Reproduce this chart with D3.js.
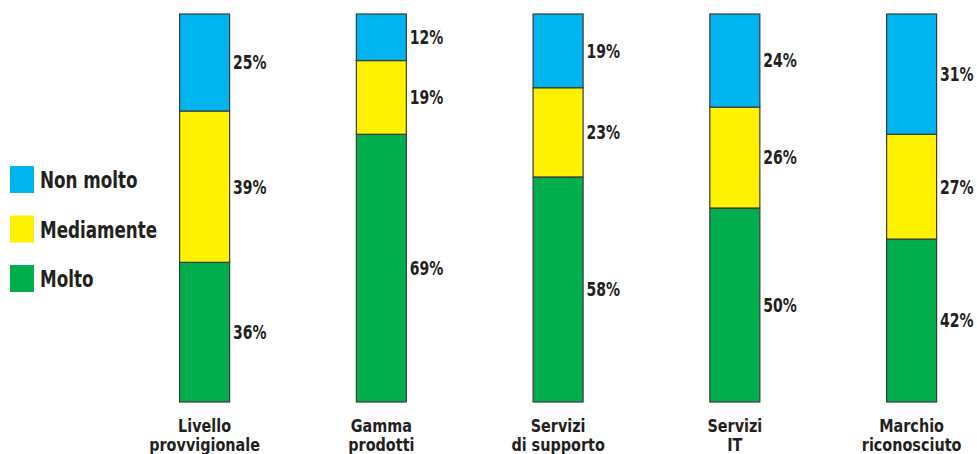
<!DOCTYPE html>
<html>
<head>
<meta charset="utf-8">
<script src="https://cdn.jsdelivr.net/npm/d3@7"></script>
<style>
  html, body { margin: 0; padding: 0; background: #fff; }
  svg { display: block; }
  text { font-family: "Liberation Sans Narrow", "DejaVu Sans Condensed", "Arial Narrow", sans-serif; font-weight: bold; fill: #231f20; }
</style>
</head>
<body>
<svg id="chart" width="977" height="454"></svg>
<script>
// Survey categories (two-line labels) and the share of answers per level
const categories = ["Livello provvigionale", "Gamma prodotti", "Servizi di supporto", "Servizi IT", "Marchio riconosciuto"];
const categoryLines = [["Livello", "provvigionale"], ["Gamma", "prodotti"], ["Servizi", "di supporto"], ["Servizi", "IT"], ["Marchio", "riconosciuto"]];
const molto = [36, 69, 58, 50, 42];
const mediamente = [39, 19, 23, 26, 27];
const nonMolto = [25, 12, 19, 24, 31];

const seriesNames = ["Molto", "Mediamente", "Non molto"];
const seriesValues = [molto, mediamente, nonMolto];
const seriesColors = ["#00ae4d", "#fff200", "#00b5ef"];
const legendOrder = ["Non molto", "Mediamente", "Molto"];

const svg = d3.select("#chart");
const barWidth = 50;

const x = d3.scalePoint().domain(categories).range([204.6, 911.6]);
const y = d3.scaleLinear().domain([0, 100]).range([402, 14]);
const color = d3.scaleOrdinal().domain(seriesNames).range(seriesColors);

// Condensed bold look: squeeze glyphs horizontally around the anchor point
const squeeze = (px, py, s) => `translate(${px},${py}) scale(${s},1)`;

// Build rows for the stack layout
const rows = categories.map((c, i) => {
  const r = { category: c };
  seriesNames.forEach((s, k) => { r[s] = seriesValues[k][i]; });
  return r;
});
const stacked = d3.stack().keys(seriesNames)(rows);

const layers = svg.append("g").selectAll("g")
  .data(stacked).join("g")
  .attr("fill", d => color(d.key));

layers.selectAll("rect")
  .data(d => d)
  .join("rect")
  .attr("x", d => x(d.data.category) - barWidth / 2)
  .attr("y", d => y(d[1]))
  .attr("width", barWidth)
  .attr("height", d => y(d[0]) - y(d[1]))
  .attr("stroke", "#3a3a3a")
  .attr("stroke-width", 1.2);

// Percentage labels beside each segment
layers.selectAll("text")
  .data(d => d.map(v => ({ v, key: d.key })))
  .join("text")
  .attr("transform", d => squeeze(x(d.v.data.category) + barWidth / 2 + 3.5, (y(d.v[0]) + y(d.v[1])) / 2, 0.82))
  .attr("dy", "0.36em")
  .attr("font-size", 19)
  .text(d => d.v.data[d.key] + "%");

// Category labels under the bars
const catG = svg.append("g");
categories.forEach((c, i) => {
  const t = catG.append("text")
    .attr("text-anchor", "middle")
    .attr("font-size", 18)
    .attr("transform", squeeze(x(c), 432, 0.89));
  categoryLines[i].forEach((line, j) => {
    t.append("tspan").attr("x", 0).attr("dy", j === 0 ? 0 : 19).text(line);
  });
});

// Legend
const legend = svg.append("g").attr("transform", "translate(10,166)");
const item = legend.selectAll("g").data(legendOrder).join("g")
  .attr("transform", (d, i) => `translate(0,${i * 49.5})`);
item.append("rect")
  .attr("width", 24).attr("height", 27)
  .attr("fill", d => color(d));
item.append("text")
  .attr("transform", squeeze(30, 22, 0.81))
  .attr("font-size", 23)
  .text(d => d);
</script>
</body>
</html>
